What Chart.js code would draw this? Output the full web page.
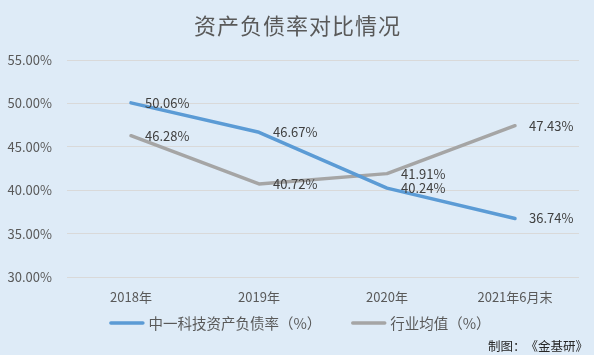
<!DOCTYPE html>
<html><head><meta charset="utf-8">
<script src="https://cdn.jsdelivr.net/npm/chart.js@4/dist/chart.umd.min.js"></script>
<style>html,body{margin:0;padding:0;background:#DEEBF7;}#wrap{width:594px;height:355px;}</style>
</head><body><div id="wrap"><canvas id="c" width="594" height="355"></canvas></div>
<script>
const categories = ['2018年', '2019年', '2020年', '2021年6月末'];
const companyRatio = [50.06, 46.67, 40.24, 36.74];
const industryAvg = [46.28, 40.72, 41.91, 47.43];
const seriesNames = ['中一科技资产负债率（%）', '行业均值（%）'];
const titleText = '资产负债率对比情况';
const sourceText = '制图：《金基研》';
const yMin = 30, yMax = 55, yStep = 5;

const FONT = '"Noto Sans CJK SC", "Noto Sans", sans-serif';
Chart.defaults.font.family = FONT;
const BG = '#DEEBF7';

// draw text one glyph at a time so full-width punctuation keeps its full advance
function drawChars(ctx, text, x, y) {
  for (const ch of text) {
    ctx.fillText(ch, x, y);
    x += ctx.measureText(ch).width;
  }
  return x;
}
function charsWidth(ctx, text) {
  let w = 0;
  for (const ch of text) w += ctx.measureText(ch).width;
  return w;
}

const bgPlugin = {
  id: 'bg',
  beforeDraw(chart) {
    const ctx = chart.ctx;
    ctx.save();
    ctx.fillStyle = BG;
    ctx.fillRect(0, 0, chart.width, chart.height);
    // title
    ctx.font = '22px ' + FONT;
    ctx.fillStyle = '#595959';
    ctx.textAlign = 'left';
    ctx.textBaseline = 'middle';
    const sp = 1;
    const tw = charsWidth(ctx, titleText) + sp * ([...titleText].length - 1);
    let x = (chart.width - tw) / 2;
    for (const ch of titleText) {
      ctx.fillText(ch, x, 26);
      x += ctx.measureText(ch).width + sp;
    }
    ctx.restore();
  }
};

const labelPlugin = {
  id: 'dataLabels',
  afterDatasetsDraw(chart) {
    const ctx = chart.ctx;
    ctx.save();
    ctx.font = '13px ' + FONT;
    ctx.fillStyle = '#404040';
    ctx.textAlign = 'left';
    ctx.textBaseline = 'middle';
    chart.data.datasets.forEach((ds, i) => {
      const meta = chart.getDatasetMeta(i);
      meta.data.forEach((pt, j) => {
        ctx.fillText(ds.data[j].toFixed(2) + '%', pt.x + 14, pt.y);
      });
    });
    ctx.restore();
  }
};

const legendPlugin = {
  id: 'customLegend',
  afterDraw(chart) {
    const ctx = chart.ctx;
    ctx.save();
    ctx.font = '14.5px ' + FONT;
    ctx.textAlign = 'left';
    ctx.textBaseline = 'middle';
    const lineW = 35, gapT = 4, gapItem = 30;
    const items = chart.data.datasets.map(ds => ({
      label: ds.label, color: ds.borderColor, w: charsWidth(ctx, ds.label)
    }));
    let total = 0;
    items.forEach((it, i) => { total += lineW + gapT + it.w + (i ? gapItem : 0); });
    let x = (chart.width - total) / 2 + 3;
    const y = 323;
    items.forEach((it) => {
      ctx.strokeStyle = it.color;
      ctx.lineWidth = 3.5;
      ctx.lineCap = 'round';
      ctx.beginPath();
      ctx.moveTo(x + 1.5, y);
      ctx.lineTo(x + lineW - 1.5, y);
      ctx.stroke();
      ctx.fillStyle = '#595959';
      drawChars(ctx, it.label, x + lineW + gapT, y);
      x += lineW + gapT + it.w + gapItem;
    });
    // source note
    ctx.font = '12.5px ' + FONT;
    ctx.fillStyle = '#262626';
    let sx = 488;
    for (const ch of sourceText) {
      ctx.fillText(ch, sx, 346);
      sx += 12.5;
    }
    ctx.restore();
  }
};

new Chart(document.getElementById('c'), {
  type: 'line',
  data: {
    labels: categories,
    datasets: [
      { label: seriesNames[0], data: companyRatio, borderColor: '#5B9BD5', backgroundColor: '#5B9BD5' },
      { label: seriesNames[1], data: industryAvg, borderColor: '#A5A5A5', backgroundColor: '#A5A5A5' }
    ]
  },
  options: {
    responsive: false,
    animation: false,
    devicePixelRatio: 1,
    layout: { padding: { left: 0, right: 15, top: 60, bottom: 0 } },
    elements: {
      line: { borderWidth: 3.5, tension: 0, borderJoinStyle: 'round', borderCapStyle: 'round', fill: false },
      point: { radius: 0, hoverRadius: 0 }
    },
    plugins: {
      legend: { display: false },
      tooltip: { enabled: false },
      title: { display: false }
    },
    scales: {
      x: {
        offset: true,
        grid: { display: false, drawTicks: false },
        border: { display: false },
        ticks: { color: '#595959', font: { size: 13 }, padding: 12, maxRotation: 0 },
        afterFit(s) { s.height = 78; }
      },
      y: {
        min: yMin, max: yMax,
        grid: { color: '#D9D9D9', lineWidth: 1, drawTicks: false },
        border: { display: false },
        ticks: { stepSize: yStep, color: '#595959', font: { size: 13 }, padding: 15,
          callback: v => v.toFixed(2) + '%' },
        afterFit(s) { s.width = 67; }
      }
    }
  },
  plugins: [bgPlugin, labelPlugin, legendPlugin]
});
</script></body></html>
